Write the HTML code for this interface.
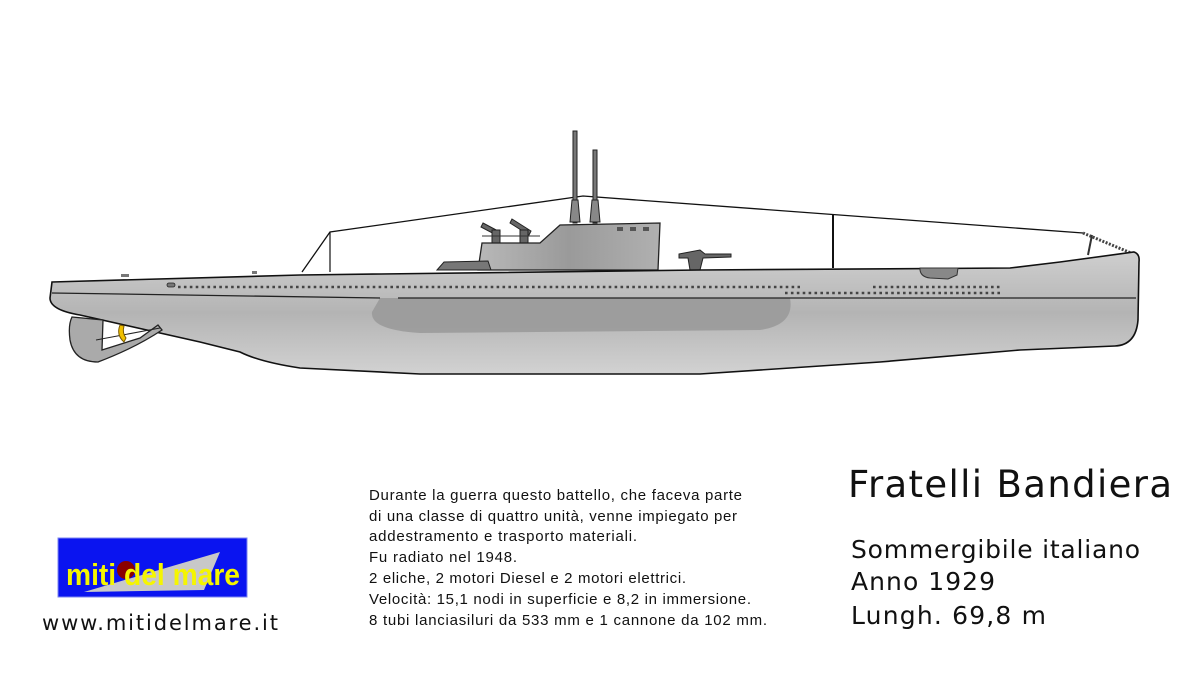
<!DOCTYPE html>
<html><head><meta charset="utf-8"><style>
html,body{margin:0;padding:0;background:#fff;}
#w{position:relative;width:1200px;height:685px;overflow:hidden;}
</style></head><body><div id="w">
<svg width="1200" height="685" style="position:absolute;left:0;top:0" font-family="Liberation Sans, DejaVu Sans, sans-serif">
<defs>
<linearGradient id="hg" x1="0" y1="0" x2="0" y2="1">
<stop offset="0" stop-color="#cfcfcf"/><stop offset="0.5" stop-color="#b4b4b4"/><stop offset="1" stop-color="#d2d2d2"/></linearGradient>
<linearGradient id="tg" x1="0" y1="0" x2="1" y2="0">
<stop offset="0" stop-color="#b8b8b8"/><stop offset="0.5" stop-color="#9a9a9a"/><stop offset="1" stop-color="#b0b0b0"/></linearGradient>
</defs>
<polyline points="302,272 330,232 583,196 1083,233" fill="none" stroke="#111" stroke-width="1.3"/>
<line x1="330" y1="232" x2="330" y2="272" stroke="#111" stroke-width="1.2"/>
<line x1="833" y1="215" x2="833" y2="268" stroke="#111" stroke-width="2"/>
<line x1="1083" y1="233" x2="1131" y2="253" stroke="#444" stroke-width="3" stroke-dasharray="2,1.5"/>
<line x1="1092" y1="235" x2="1088" y2="255" stroke="#333" stroke-width="2"/>
<rect x="573" y="131" width="4" height="92" fill="#777" stroke="#222" stroke-width="1"/>
<rect x="593" y="150" width="4" height="73" fill="#777" stroke="#222" stroke-width="1"/>
<path d="M570,222 L572,200 L578,200 L580,222Z M590,222 L592,200 L598,200 L600,222Z" fill="#888" stroke="#222"/>
<g stroke="#222" fill="#666"><path d="M483,223 L500,232 L498,236 L481,227Z"/><rect x="492" y="230" width="8" height="14"/>
<path d="M512,219 L531,231 L529,235 L510,223Z"/><rect x="520" y="230" width="8" height="14"/></g>
<line x1="482" y1="236" x2="540" y2="236" stroke="#333"/>
<path d="M478,270 L482,243 L540,243 L560,225 L660,223 L658,270Z" fill="url(#tg)" stroke="#222" stroke-width="1.3"/>
<g fill="#555"><rect x="617" y="227" width="6" height="4"/><rect x="630" y="227" width="6" height="4"/><rect x="643" y="227" width="6" height="4"/></g>
<path d="M437,270 L444,262 L488,261 L491,270Z" fill="#777" stroke="#222"/>
<path d="M679,254 L700,250 L705,254 L731,254 L731,257 L703,258 L700,270 L690,270 L688,258 L679,258Z" fill="#666" stroke="#222"/>
<path d="M52,282 L300,275 L700,270 L1010,268 L1060,262 L1134,252 Q1140,254 1139,262 L1138,320 Q1136,345 1115,346 L1020,350 L880,362 L700,374 L420,374 L300,368 Q260,362 240,352 L200,342 L80,315 Q50,310 50,298 Z" fill="url(#hg)" stroke="#111" stroke-width="1.6"/>
<path d="M380,298 L790,298 Q795,325 760,330 L420,333 Q370,330 372,312Z" fill="#9a9a9a" opacity="0.9"/>
<path d="M52,293 L380,298 M398,298 L790,298 L1136,298" fill="none" stroke="#222" stroke-width="1.3"/>
<path d="M920,268 L958,268 L957,275 L948,279 L930,278 Q921,277 920,270Z" fill="#888" stroke="#333"/>
<line x1="178" y1="287" x2="800" y2="287" stroke="#444" stroke-width="2.6" stroke-dasharray="2.6,3.3"/>
<line x1="873" y1="287" x2="1000" y2="287" stroke="#444" stroke-width="2.6" stroke-dasharray="2.6,3.3"/>
<line x1="785" y1="293" x2="1000" y2="293" stroke="#444" stroke-width="2.6" stroke-dasharray="2.6,3.3"/>
<rect x="167" y="283" width="8" height="4" rx="2" fill="#777" stroke="#222" stroke-width="0.8"/>
<rect x="121" y="274" width="8" height="3" fill="#777"/><rect x="252" y="271" width="5" height="3" fill="#777"/>
<path d="M72,317 L103,320 L102,350 L140,338 L158,325 L162,330 Q135,348 98,362 Q74,362 70,340 Q68,325 72,317Z" fill="#aaa" stroke="#222" stroke-width="1.3"/>
<line x1="96" y1="340" x2="160" y2="328" stroke="#222" stroke-width="1"/>
<path d="M120,325 Q116,335 124,342 L126,338 Q122,333 124,326Z" fill="#f0c000" stroke="#7a5a00"/>
<rect x="58" y="538" width="189" height="59" fill="#0a14f0" stroke="#7d86f0" stroke-width="1"/>
<path d="M84,592 L220,552 L204,590 Z" fill="#c8c8c8"/>
<circle cx="126" cy="570" r="9" fill="#8a0000"/>
<text x="66" y="585" font-weight="bold" font-size="31" fill="#f5f500" textLength="174" lengthAdjust="spacingAndGlyphs">miti del mare</text>
<g fill="#111">
<g font-family="DejaVu Sans, sans-serif" lengthAdjust="spacingAndGlyphs">
<text x="42" y="630" font-size="21" textLength="236">www.mitidelmare.it</text>
<text x="848" y="497" font-size="37" textLength="324">Fratelli Bandiera</text>
<text x="851" y="558" font-size="25" textLength="289">Sommergibile italiano</text>
<text x="851" y="590" font-size="25" textLength="144">Anno 1929</text>
<text x="851" y="624" font-size="25" textLength="195">Lungh. 69,8 m</text>
</g>
<g font-size="15" lengthAdjust="spacingAndGlyphs">
<text x="369" y="500" textLength="373">Durante la guerra questo battello, che faceva parte</text>
<text x="369" y="521" textLength="368">di una classe di quattro unità, venne impiegato per</text>
<text x="369" y="541" textLength="268">addestramento e trasporto materiali.</text>
<text x="369" y="562" textLength="148">Fu radiato nel 1948.</text>
<text x="369" y="583" textLength="317">2 eliche, 2 motori Diesel e 2 motori elettrici.</text>
<text x="369" y="604" textLength="382">Velocità: 15,1 nodi in superficie e 8,2 in immersione.</text>
<text x="369" y="625" textLength="398">8 tubi lanciasiluri da 533 mm e 1 cannone da 102 mm.</text>
</g></g>
</svg>
</div></body></html>
